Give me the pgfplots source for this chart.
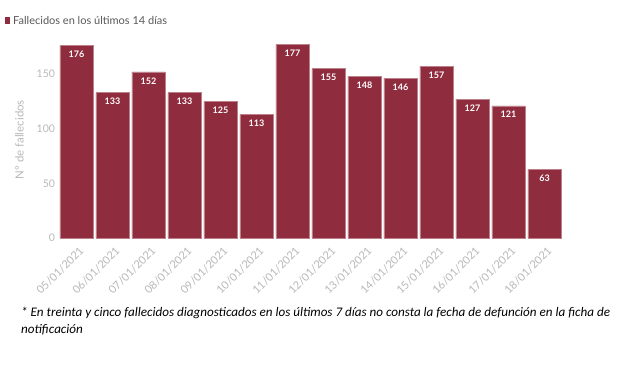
\documentclass[border=0pt]{standalone}
\usepackage{pgfplots}
\pgfplotsset{compat=1.18}
\usepackage{fontspec}
\setmainfont{Lato}
\newfontfamily\notefont{Carlito}
\definecolor{barred}{RGB}{143,44,62}
\definecolor{tickgrey}{RGB}{185,185,185}
\definecolor{leggrey}{RGB}{89,89,89}
\begin{document}
\begin{tikzpicture}[x=1pt,y=1pt]
\path[use as bounding box,fill=white] (0,0) rectangle (620,368);
\begin{axis}[
  at={(58.5pt,130pt)}, anchor=south west,
  scale only axis, width=504pt, height=196.7pt,
  xmin=-0.5, xmax=13.5, ymin=0, ymax=180,
  axis line style={draw=none},
  ybar, bar width=0.92,
  xtick=data,
  xticklabels={05/01/2021,06/01/2021,07/01/2021,08/01/2021,09/01/2021,10/01/2021,11/01/2021,12/01/2021,13/01/2021,14/01/2021,15/01/2021,16/01/2021,17/01/2021,18/01/2021},
  x tick label style={rotate=45, anchor=north east, font=\fontsize{11}{12}\selectfont, text=tickgrey, inner sep=1pt, yshift=-3pt},
  ytick={0,50,100,150},
  y tick label style={font=\fontsize{10.5}{11}\selectfont, text=tickgrey},
  /pgf/number format/assume math mode=true,
  ylabel={Nº de fallecidos},
  ylabel style={font=\fontsize{11.5}{12}\selectfont, text=tickgrey, yshift=6pt},
  tick style={draw=none},
  nodes near coords,
  nodes near coords style={anchor=north, yshift=-2pt, font=\fontsize{9}{10}\selectfont\bfseries, text=white},
  clip=false,
]
\addplot[fill=barred, draw=barred!60!white, line width=0.4pt] coordinates {
(0,176) (1,133) (2,152) (3,133) (4,125) (5,113) (6,177) (7,155) (8,148) (9,146) (10,157) (11,127) (12,121) (13,63)};
\end{axis}
\fill[barred] (5,344) rectangle (10,351);
\node[anchor=west, inner sep=0pt, font=\fontsize{11}{12}\selectfont, text=leggrey] at (13,347.5) {Fallecidos en los últimos 14 días};
\node[anchor=north west, inner sep=0pt, align=left, font=\notefont\itshape\fontsize{13.1}{17}\selectfont] at (21,61) {* En treinta y cinco fallecidos diagnosticados en los últimos 7 días no consta la fecha de defunción en la ficha de\\notificación};
\end{tikzpicture}
\end{document}
